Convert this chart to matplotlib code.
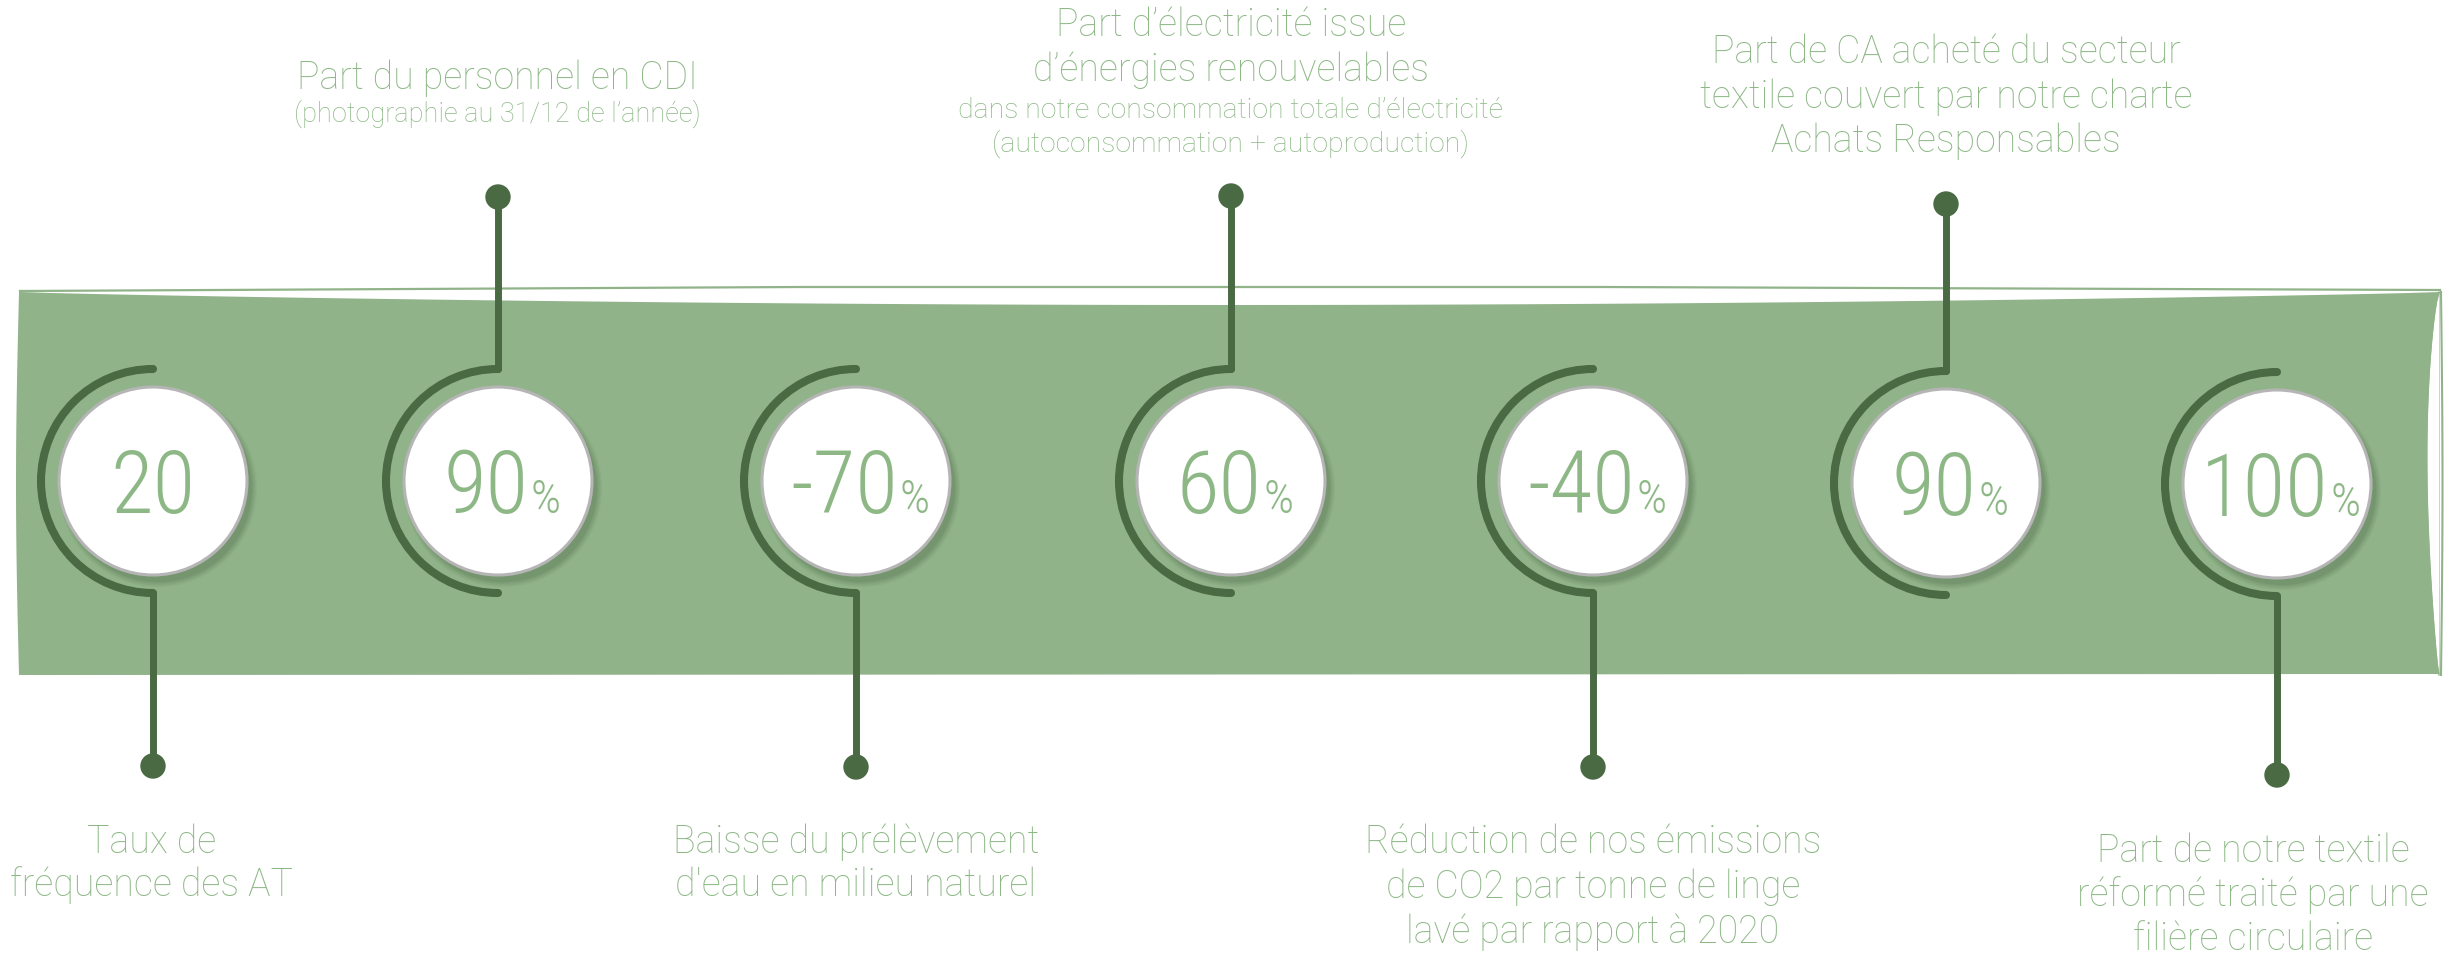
import matplotlib
matplotlib.use('Agg')
import matplotlib.pyplot as plt
from matplotlib.patches import Circle, Arc, Polygon
from matplotlib import font_manager as fm
import numpy as np

# ---------------- data ----------------
values = ['20', '90', '-70', '60', '-40', '90', '100']
units = ['', '%', '%', '%', '%', '%', '%']
label_side = ['bottom', 'top', 'bottom', 'top', 'bottom', 'top', 'bottom']
label_lines = [
    ['Taux de', 'fréquence des AT'],
    ['Part du personnel en CDI', '(photographie au 31/12 de l\u2019année)'],
    ['Baisse du prélèvement', 'd\'eau en milieu naturel'],
    ['Part d\u2019électricité issue', 'd\u2019énergies renouvelables',
     'dans notre consommation totale d\u2019électricité',
     '(autoconsommation + autoproduction)'],
    ['Réduction de nos émissions', 'de CO2 par tonne de linge', 'lavé par rapport à 2020'],
    ['Part de CA acheté du secteur', 'textile couvert par notre charte', 'Achats Responsables'],
    ['Part de notre textile', 'réformé traité par une', 'filière circulaire'],
]
label_small = [
    [False, False],
    [False, True],
    [False, False],
    [False, False, True, True],
    [False, False, False],
    [False, False, False],
    [False, False, False],
]

# ---------------- layout ----------------
W, H = 2453, 954
cx = [153, 498, 856, 1231, 1593, 1946, 2277]
cy = [482, 482, 482, 482, 482, 484, 485]
dot_y = [767, 198, 768, 197, 768, 205, 776]
label_x = [152, 497, 856, 1231, 1593, 1946, 2253]
label_y = [[842, 885], [78, 114], [842, 885], [25, 70, 110, 144],
           [842, 887, 932], [52, 97, 141], [851, 895, 939]]

BAND = '#91b389'
DARK = '#4a6a43'
TXT = '#8db886'
R_CIRC = 94
R_ARC = 112

installed = {f.name for f in fm.fontManager.ttflist}
NUM_FONT = next((f for f in ['Liberation Sans Narrow', 'Roboto Condensed',
                             'DejaVu Sans Condensed', 'Roboto'] if f in installed), 'DejaVu Sans')
LAB_FONT = 'Roboto' if 'Roboto' in installed else 'Liberation Sans'

fig = plt.figure(figsize=(W / 100, H / 100), dpi=100)
ax = fig.add_axes([0, 0, 1, 1])
ax.set_xlim(0, W)
ax.set_ylim(H, 0)
ax.axis('off')

# ---------------- band ----------------
xs = np.linspace(20, 2440, 80)
top = 293 + 13 * np.sin(np.pi * (xs - 20) / (2440 - 20)) ** 0.8
ys_left = np.linspace(293, 676, 20)
left_x = 19 - 3 * np.sin(np.pi * (ys_left - 293) / (676 - 293))
bottom_x = xs[::-1]
bottom_y = 676 - 1.0 * (bottom_x - 20) / 2420
poly = np.vstack([
    np.column_stack([xs, top]),
    np.column_stack([np.full(20, 2440), np.linspace(292, 676, 20)]),
    np.column_stack([bottom_x, bottom_y]),
    np.column_stack([left_x[::-1], ys_left[::-1]]),
])
ax.add_patch(Polygon(poly, closed=True, facecolor=BAND, edgecolor='none', zorder=1))
# thin upper line
ax.plot([20, 800, 1600, 2440], [292, 288, 288, 291], color=BAND, lw=1.6, zorder=1)
# right curled edge
yy = np.linspace(293, 676, 40)
inner = 2439 - 15 * np.sin(np.pi * (yy - 293) / (676 - 293)) ** 0.7 * (1 - 0.4 * (yy - 293) / 383)
ax.fill_betweenx(yy, inner, 2439, color='white', zorder=2, lw=0)
ax.plot(inner, yy, color=BAND, lw=1.0, zorder=2)
ax.plot(2441 + 1.5 * np.sin(np.pi * (yy - 293) / 383), yy, color=BAND, lw=1.5, zorder=2)

# ---------------- markers ----------------
renderer = fig.canvas.get_renderer()
for i in range(len(values)):
    x0, y0 = cx[i], cy[i]
    ax.add_patch(Arc((x0, y0), 2 * R_ARC, 2 * R_ARC, theta1=90, theta2=270,
                     color=DARK, lw=5.8, capstyle='round', zorder=3))
    if label_side[i] == 'bottom':
        ys = [y0 + R_ARC, dot_y[i]]
    else:
        ys = [y0 - R_ARC, dot_y[i]]
    ax.plot([x0, x0], ys, color=DARK, lw=5.0, solid_capstyle='round', zorder=3)
    ax.add_patch(Circle((x0, dot_y[i]), 12, color=DARK, zorder=4))
    # soft shadow
    for k, a in enumerate([0.08, 0.10, 0.12, 0.16]):
        ax.add_patch(Circle((x0 + 5, y0 + 7), R_CIRC + 5 - 1.6 * k, color='#4f6c49',
                            alpha=a, lw=0, zorder=4))
    ax.add_patch(Circle((x0, y0), R_CIRC, facecolor='white', edgecolor='#b5b5b5',
                        lw=2.2, zorder=5))
    # value text
    t1 = ax.text(0, 0, values[i], fontsize=63, family=NUM_FONT, fontweight='light',
                 color=TXT, ha='left', va='baseline', zorder=6)
    t2 = ax.text(0, 0, units[i], fontsize=34, family=NUM_FONT, fontweight='light',
                 color=TXT, ha='left', va='baseline', zorder=6)
    w1 = t1.get_window_extent(renderer).width
    w2 = t2.get_window_extent(renderer).width if units[i] else 0
    gap = 2 if units[i] else 0
    total = w1 + w2 + gap
    start = x0 + (4 if units[i] else 0) - total / 2
    base = y0 + 31
    t1.set_position((start, base))
    t2.set_position((start + w1 + gap, base))

    # labels
    for line, small, ly in zip(label_lines[i], label_small[i], label_y[i]):
        fs = 27
        if small:
            fs = 19.5 if i == 1 else 20.5
        ax.text(label_x[i], ly, line, fontsize=fs, family=LAB_FONT,
                fontweight='light', color=TXT, ha='center', va='center', zorder=6)

fig.savefig('out.png', dpi=100, facecolor='white')
